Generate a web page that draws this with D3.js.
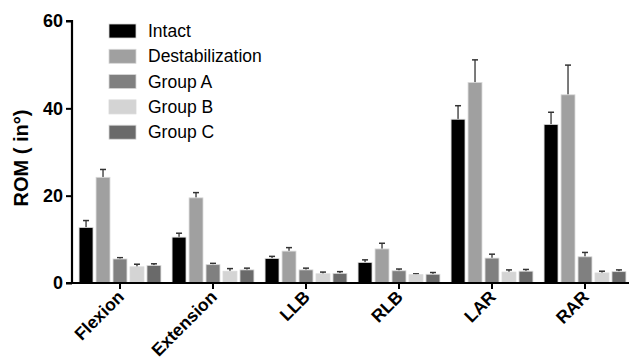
<!DOCTYPE html>
<html><head><meta charset="utf-8">
<script src="https://cdn.jsdelivr.net/npm/d3@7"></script>
<style>body{margin:0;background:#fff}</style>
</head><body>
<script>
const categories = ["Flexion","Extension","LLB","RLB","LAR","RAR"];
const seriesNames = ["Intact","Destabilization","Group A","Group B","Group C"];
const colors = ["#000000","#a0a0a0","#808080","#d4d4d4","#6a6a6a"];
const intact = [12.7,10.5,5.6,4.7,37.5,36.3];
const destab = [24.2,19.5,7.3,7.8,45.9,43.1];
const groupA = [5.5,4.2,3.0,2.8,5.7,6.0];
const groupB = [3.7,2.7,2.1,1.9,2.5,2.3];
const groupC = [4.0,3.0,2.2,2.0,2.7,2.6];
const intactErr = [1.6,0.9,0.5,0.6,3.1,2.8];
const destabErr = [1.8,1.2,0.8,1.3,5.2,6.8];
const groupAErr = [0.3,0.3,0.4,0.4,0.9,1.0];
const groupBErr = [0.6,0.6,0.4,0.2,0.5,0.4];
const groupCErr = [0.4,0.4,0.4,0.4,0.4,0.4];
const yTicks = [0,20,40,60];

const values = [intact,destab,groupA,groupB,groupC];
const errs = [intactErr,destabErr,groupAErr,groupBErr,groupCErr];

const W=630,H=360;
const svg=d3.select("body").append("svg").attr("width",W).attr("height",H);
const font="'Liberation Sans', Arial, sans-serif";

const y=d3.scaleLinear().domain([0,60]).range([283,21]);
const x0=d3.scaleBand().domain(categories).range([73.5,631.5]).paddingInner(0.12).paddingOuter(0.06);
const x1=d3.scaleBand().domain(seriesNames).range([0,x0.bandwidth()]).paddingInner(0.18);

const g=svg.append("g");
categories.forEach((c,ci)=>{
  seriesNames.forEach((s,si)=>{
    const v=values[si][ci], e=errs[si][ci];
    const bx=x0(c)+x1(s), bw=x1.bandwidth();
    const cx=bx+bw/2;
    g.append("line").attr("x1",cx).attr("x2",cx).attr("y1",y(v)).attr("y2",y(v+e))
      .attr("stroke","#333").attr("stroke-width",1.3);
    g.append("line").attr("x1",cx-3).attr("x2",cx+3).attr("y1",y(v+e)).attr("y2",y(v+e))
      .attr("stroke","#333").attr("stroke-width",1.5);
    g.append("rect").attr("x",bx).attr("y",y(v)).attr("width",bw).attr("height",y(0)-y(v))
      .attr("fill",colors[si]).attr("stroke","#d8d8d8").attr("stroke-width",0.8);
  });
});

// Y axis
const ya=svg.append("g").attr("transform","translate(72,0)")
  .call(d3.axisLeft(y).tickValues(yTicks).tickSize(6).tickPadding(3));
ya.select(".domain").attr("stroke","#000").attr("stroke-width",2.2).attr("d","M-6,21H0V283H-6");
ya.selectAll(".tick line").attr("stroke","#000").attr("stroke-width",2);
ya.selectAll(".tick text").attr("font-family",font).attr("font-size",18).attr("font-weight","bold").attr("fill","#000");

// X axis
const xa=svg.append("g").attr("transform","translate(0,283)")
  .call(d3.axisBottom(x0).tickSize(6).tickSizeOuter(0));
xa.select(".domain").attr("stroke","#000").attr("stroke-width",2.2).attr("d","M71,0H629");
xa.selectAll(".tick line").attr("stroke","#000").attr("stroke-width",2);
xa.selectAll(".tick text").attr("font-family",font).attr("font-size",17.5).attr("font-weight","bold").attr("fill","#000")
  .attr("text-anchor","end").attr("dy",null).attr("y",0)
  .attr("transform","translate(5,15) rotate(-45)");

// Y label
svg.append("text").attr("transform","translate(28,158) rotate(-90)").attr("text-anchor","middle")
  .attr("font-family",font).attr("font-size",20).attr("font-weight","bold").text("ROM ( in°)");

// Legend
const lg=svg.append("g");
seriesNames.forEach((s,i)=>{
  const ly=31+i*25.3;
  lg.append("rect").attr("x",109).attr("y",ly-7).attr("width",27).attr("height",14).attr("fill",colors[i]).attr("stroke","#d8d8d8").attr("stroke-width",0.8);
  lg.append("text").attr("x",148).attr("y",ly).attr("dy","0.35em").attr("font-family",font).attr("font-size",17.5).attr("fill","#000").text(s);
});
</script>
</body></html>
